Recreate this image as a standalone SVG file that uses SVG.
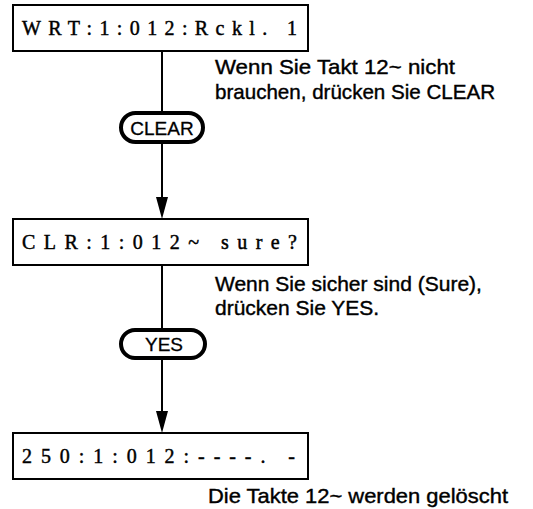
<svg xmlns="http://www.w3.org/2000/svg" width="533" height="509" viewBox="0 0 533 509">
<style>
.box{fill:#fff;stroke:#000;stroke-width:2}
.disp{font-family:"Liberation Serif",serif;font-size:20px;fill:#000;stroke:#000;stroke-width:0.45}
.pill{fill:#fff;stroke:#000;stroke-width:4}
.key{font-family:"Liberation Sans",Arial,sans-serif;font-size:19px;fill:#000;stroke:#000;stroke-width:0.3;text-anchor:middle}
.note{font-family:"Liberation Sans",Arial,sans-serif;font-size:21px;fill:#000;stroke:#000;stroke-width:0.4}
.ln{stroke:#000;stroke-width:2;fill:none}
</style>
<g id="connectors">
<line class="ln" x1="162" y1="51" x2="162" y2="114"/>
<line class="ln" x1="162" y1="143" x2="162" y2="205"/>
<polygon points="156,197 168,197 162,219" fill="#000"/>
<line class="ln" x1="162" y1="265" x2="162" y2="330"/>
<line class="ln" x1="162" y1="358" x2="162" y2="419"/>
<polygon points="156,411 168,411 162,433" fill="#000"/>
</g>
<g id="box1">
<rect class="box" x="13" y="5" width="295" height="46"/>
<text class="disp" x="22" y="35" textLength="275" lengthAdjust="spacing">WRT:1:012:Rckl. 1</text>
</g>
<g id="note1">
<text class="note" x="215" y="74" textLength="240" lengthAdjust="spacingAndGlyphs">Wenn Sie Takt 12~ nicht</text>
<text class="note" x="215" y="99" textLength="280" lengthAdjust="spacingAndGlyphs">brauchen, drücken Sie CLEAR</text>
</g>
<g id="clear">
<rect class="pill" x="121" y="113" width="82" height="29" rx="14.5"/>
<text class="key" x="162" y="134.5">CLEAR</text>
</g>
<g id="box2">
<rect class="box" x="13" y="219" width="295" height="46"/>
<text class="disp" x="22" y="249" textLength="275" lengthAdjust="spacing">CLR:1:012~ sure?</text>
</g>
<g id="note2">
<text class="note" x="215" y="291">Wenn Sie sicher sind (Sure),</text>
<text class="note" x="215" y="315">drücken Sie YES.</text>
</g>
<g id="yes">
<rect class="pill" x="121" y="330" width="84" height="28" rx="14"/>
<text class="key" x="164" y="351">YES</text>
</g>
<g id="box3">
<rect class="box" x="13" y="433" width="295" height="46"/>
<text class="disp" x="22" y="463" textLength="273" lengthAdjust="spacing">250:1:012:----. -</text>
</g>
<g id="note3">
<text class="note" x="208" y="503" textLength="300" lengthAdjust="spacingAndGlyphs">Die Takte 12~ werden gelöscht</text>
</g>
</svg>
